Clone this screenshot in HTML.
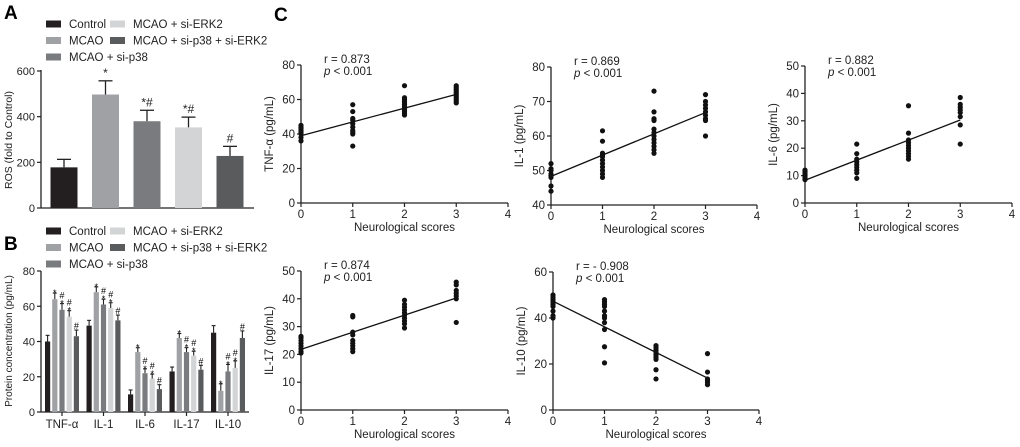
<!DOCTYPE html>
<html><head><meta charset="utf-8"><style>
html,body{margin:0;padding:0;background:#fff;}
svg{display:block;font-family:"Liberation Sans",Arial,sans-serif;}
</style></head><body>
<svg id="fig" width="1020" height="447" viewBox="0 0 1020 447" xmlns="http://www.w3.org/2000/svg">
<text x="4" y="19" font-size="19" font-weight="bold">A</text>
<text x="4" y="250" font-size="19" font-weight="bold">B</text>
<text x="274" y="21" font-size="19" font-weight="bold">C</text>
<g id="gA"></g>
<g id="gB"></g>
<g id="gC"></g>
</svg>
<script>
const groups = ['Control','MCAO','MCAO + si-p38','MCAO + si-ERK2','MCAO + si-p38 + si-ERK2'];
const colors = ['#231f20','#9fa1a4','#7a7b7e','#d3d4d6','#5a5b5d'];
const rosValues = [178,497,380,353,228];
const rosErrors = [35,60,48,45,42];
const rosMarks = ['','*','*#','*#','#'];
const rosTicks = [0,200,400,600];
const cytoCats = ['TNF-α','IL-1','IL-6','IL-17','IL-10'];
const cytoControl = [40,49,10,23,45];
const cytoMCAO = [64,68,34,42,12];
const cytoP38 = [58,61,22,34,23];
const cytoERK2 = [54,59,19,32,25];
const cytoBoth = [43,52,13,24,42];
const cytoErr = [3.5,3,2.5,2.5,4];
const cytoTicks = [0,20,40,60,80];
const tnfX0=[36,38,40,41,42,43,44,45], tnfX1=[33,40,41,42,44,46,48,49,53,57], tnfX2=[51,52,53,54,55,56,57,58,59,60,61,68], tnfX3=[58,59,60,61,62,63,64,65,66,67,68];
const il1X0=[44,45.5,48,48.5,49,50,50.5,52], il1X1=[48,49,50,51,52,53,54,54.5,55,58.5,61.5], il1X2=[55,56,57,58,59,60,61,62,64.5,65,67,73], il1X3=[60,64.5,65,66,67,68,69,70,72];
const il6X0=[8.5,9,9.5,10,10.5,11,11.5,12], il6X1=[9,11,12,13,14,15,16,18,21.5], il6X2=[16,17,18,19,20,21,22,23,25.5,35.5], il6X3=[21.5,28.5,31.5,33,34,35,36,38.5];
const il17X0=[20.5,21,22,23,24,25,26,26.5], il17X1=[21,22,23,24,25,27,28,33.5,34], il17X2=[29.5,31,32,33,34,35,36,37,38,39.5], il17X3=[31.5,40,41,42,43,45,46];
const il10X0=[40,41,43,45,46,47,48,49,50], il10X1=[20.5,27.5,35,38,40,41,43,45,46,47,48], il10X2=[13.5,17.5,22,23,24,25,26,27,28], il10X3=[11,12,13,13.5,16.5,24.5];
const fitStart=[39,48.3,8.3,21.8,47.3];
const fitEnd=[63,66.8,30.3,40.3,13.9];
const rValues=['r = 0.873','r = 0.869','r = 0.882','r = 0.874','r = - 0.908'];

const NS='http://www.w3.org/2000/svg';
function mk(p,tag,at,txt){const e=document.createElementNS(NS,tag);for(const k in at)e.setAttribute(k,at[k]);if(txt!==undefined)e.textContent=txt;p.appendChild(e);return e;}

function legend(g,y0){
  const pos=[[46,y0],[46,y0+16.5],[46,y0+33],[110,y0],[110,y0+16.5]];
  groups.forEach((n,i)=>{
    const r=mk(g,'rect',{x:pos[i][0],y:pos[i][1]-3.5,width:15,height:7,fill:colors[i]});
    
    
    const t=mk(g,'text',{x:pos[i][0]+23,y:pos[i][1]+4,'font-size':11.5,fill:'#222'},n);
    
    
  });
}

// Panel A
(function(){
  const g=document.getElementById('gA');
  legend(g,24);
  const y=v=>208-v*(137/600);
  const xc=[64,105.5,147,188.5,230];
  mk(g,'line',{x1:41,y1:70,x2:41,y2:208,stroke:'#222','stroke-width':1.3});
  mk(g,'line',{x1:41,y1:208,x2:254,y2:208,stroke:'#222','stroke-width':1.3});
  rosTicks.forEach(t=>{
    mk(g,'line',{x1:37,y1:y(t),x2:41,y2:y(t),stroke:'#222','stroke-width':1.2});
    const l=mk(g,'text',{x:35,y:y(t)+4,'font-size':11,'text-anchor':'end',fill:'#222'},t);
    
    
  });
  const yt=mk(g,'text',{x:0,y:0,'font-size':10.5,'text-anchor':'middle',transform:'translate(12,140) rotate(-90)',fill:'#222'},'ROS (fold to Control)');
  
  
  rosValues.forEach((v,i)=>{
    const top=y(v+rosErrors[i]);
    mk(g,'line',{x1:xc[i],y1:y(v),x2:xc[i],y2:top,stroke:'#222','stroke-width':1.3});
    mk(g,'line',{x1:xc[i]-7,y1:top,x2:xc[i]+7,y2:top,stroke:'#222','stroke-width':1.3});
    const b=mk(g,'rect',{x:xc[i]-13.5,y:y(v),width:27,height:208-y(v),fill:colors[i]});
    
    
    if(rosMarks[i]){const m=mk(g,'text',{x:xc[i],y:top-4,'font-size':12,'text-anchor':'middle',fill:'#222'},rosMarks[i]);
      
      }
  });
})();

// Panel B
(function(){
  const g=document.getElementById('gB');
  legend(g,231);
  const y=v=>412-v*(141/80);
  const series=[cytoControl,cytoMCAO,cytoP38,cytoERK2,cytoBoth];
  mk(g,'line',{x1:41,y1:271,x2:41,y2:412,stroke:'#222','stroke-width':1.3});
  mk(g,'line',{x1:41,y1:412,x2:249,y2:412,stroke:'#222','stroke-width':1.3});
  cytoTicks.forEach(t=>{
    mk(g,'line',{x1:37,y1:y(t),x2:41,y2:y(t),stroke:'#222','stroke-width':1.2});
    const l=mk(g,'text',{x:35,y:y(t)+4,'font-size':11,'text-anchor':'end',fill:'#222'},t);
    
    
  });
  const yt=mk(g,'text',{x:0,y:0,'font-size':10,'text-anchor':'middle',transform:'translate(12,341) rotate(-90)',fill:'#222'},'Protein concentration (pg/mL)');
  
  
  const marks=['','*','*#','*#','#'];
  cytoCats.forEach((c,ci)=>{
    const cx=62+ci*41.5;
    mk(g,'line',{x1:cx,y1:412,x2:cx,y2:416,stroke:'#222','stroke-width':1.2});
    const l=mk(g,'text',{x:cx,y:428,'font-size':11.5,'text-anchor':'middle',fill:'#222'},c);
    
    
    series.forEach((s,si)=>{
      const v=s[ci]; const x=cx+(si-2)*7.2; const top=y(v+cytoErr[ci]);
      mk(g,'line',{x1:x,y1:y(v),x2:x,y2:top,stroke:'#222','stroke-width':1.1});
      mk(g,'line',{x1:x-2,y1:top,x2:x+2,y2:top,stroke:'#222','stroke-width':1.1});
      const b=mk(g,'rect',{x:x-2.6,y:y(v),width:5.2,height:412-y(v),fill:colors[si]});
      
      
      let m=marks[si];
      if(m==='*'){const t=mk(g,'text',{x:x,y:top+3,'font-size':9,'text-anchor':'middle'},'*');}
      else if(m==='#'){const t=mk(g,'text',{x:x,y:top-1,'font-size':9,'text-anchor':'middle'},'#');}
      else if(m==='*#'){const t1=mk(g,'text',{x:x,y:top+3,'font-size':9,'text-anchor':'middle'},'*');
        const t2=mk(g,'text',{x:x,y:top-5,'font-size':9,'text-anchor':'middle'},'#');}
    });
  });
})();

// Panel C
const plots=[
  {x0:301,x4:508,yb:203,yt:65,min:0,max:80,ticks:[0,20,40,60,80],title:'TNF-α (pg/mL)',d:[tnfX0,tnfX1,tnfX2,tnfX3],name:'tnf-alpha'},
  {x0:551,x4:757,yb:205,yt:67,min:40,max:80,ticks:[40,50,60,70,80],title:'IL-1 (pg/mL)',d:[il1X0,il1X1,il1X2,il1X3],name:'il-1'},
  {x0:805,x4:1012,yb:203,yt:66,min:0,max:50,ticks:[0,10,20,30,40,50],title:'IL-6 (pg/mL)',d:[il6X0,il6X1,il6X2,il6X3],name:'il-6'},
  {x0:301,x4:508,yb:410,yt:271,min:0,max:50,ticks:[0,10,20,30,40,50],title:'IL-17 (pg/mL)',d:[il17X0,il17X1,il17X2,il17X3],name:'il-17'},
  {x0:553,x4:759,yb:410,yt:272,min:0,max:60,ticks:[0,20,40,60],title:'IL-10 (pg/mL)',d:[il10X0,il10X1,il10X2,il10X3],name:'il-10'}
];
(function(){
  const root=document.getElementById('gC');
  plots.forEach((p,pi)=>{
    const g=mk(root,'g',{});
    
    
    const X=v=>p.x0+(p.x4-p.x0)*v/4;
    const Y=v=>p.yb-(p.yb-p.yt)*(v-p.min)/(p.max-p.min);
    mk(g,'line',{x1:p.x0,y1:p.yt,x2:p.x0,y2:p.yb,stroke:'#222','stroke-width':1.3});
    mk(g,'line',{x1:p.x0,y1:p.yb,x2:p.x4,y2:p.yb,stroke:'#222','stroke-width':1.3});
    p.ticks.forEach(t=>{
      mk(g,'line',{x1:p.x0-4,y1:Y(t),x2:p.x0,y2:Y(t),stroke:'#222','stroke-width':1.2});
      const l=mk(g,'text',{x:p.x0-6,y:Y(t)+4,'font-size':11.5,'text-anchor':'end',fill:'#222'},t);
      
      
    });
    [0,1,2,3,4].forEach(t=>{
      mk(g,'line',{x1:X(t),y1:p.yb,x2:X(t),y2:p.yb+4,stroke:'#222','stroke-width':1.2});
      const l=mk(g,'text',{x:X(t),y:p.yb+15,'font-size':11.5,'text-anchor':'middle',fill:'#222'},t);
      
      
    });
    const xt=mk(g,'text',{x:X(2),y:p.yb+28,'font-size':11.5,'text-anchor':'middle',fill:'#222'},'Neurological scores');
    
    
    const yt=mk(g,'text',{x:0,y:0,'font-size':11.5,'text-anchor':'middle',transform:'translate('+(p.x0-28)+','+((p.yb+p.yt)/2)+') rotate(-90)',fill:'#222'},p.title);
    
    
    const r=mk(g,'text',{x:p.x0+23,y:p.yt-2,'font-size':11.5,fill:'#222'},rValues[pi]);
    
    
    const pv=mk(g,'text',{x:p.x0+23,y:p.yt+10,'font-size':11.5,fill:'#222'});
    
    
    mk(pv,'tspan',{'font-style':'italic'},'p');
    mk(pv,'tspan',{},' < 0.001');
    const fl=mk(g,'line',{x1:X(0),y1:Y(fitStart[pi]),x2:X(3),y2:Y(fitEnd[pi]),stroke:'#111','stroke-width':1.3});
    
    
    p.d.forEach((arr,score)=>{
      arr.forEach(v=>{
        const c=mk(g,'circle',{cx:X(score),cy:Y(v),r:2.6,fill:'#111'});
        
        
      });
    });
  });
})();
</script>
</body></html>
